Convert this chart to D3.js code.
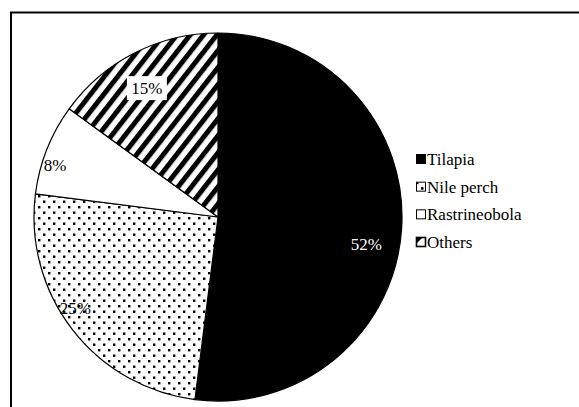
<!DOCTYPE html>
<html lang="en">
<head>
    <meta charset="UTF-8">
    <title>Catch composition</title>
    <script src="https://d3js.org/d3.v7.min.js"></script>
    <style>
        body { margin: 0; background: #fff; }
        svg { display: block; }
        text { font-family: "Liberation Serif", "DejaVu Serif", serif; }
    </style>
</head>
<body>
    <svg id="chart" width="579" height="407"></svg>

    <script>
        // data
        const species = ["Tilapia", "Nile perch", "Rastrineobola", "Others"];
        const shares = [52, 25, 8, 15];
        const labels = ["52%", "25%", "8%", "15%"];

        const width = 579, height = 407;
        const cx = 218, cy = 217, radius = 184;
        const serif = "Liberation Serif";

        const svg = d3.select("#chart");

        // fills: solid, dots, plain, stripes
        const defs = svg.append("defs");

        const dots = defs.append("pattern")
            .attr("id", "dots")
            .attr("patternUnits", "userSpaceOnUse")
            .attr("width", 10).attr("height", 11);
        dots.append("rect").attr("width", 10).attr("height", 11).attr("fill", "#fff");
        dots.append("rect").attr("x", 0).attr("y", 0).attr("width", 2.4).attr("height", 2.4).attr("fill", "#000");
        dots.append("rect").attr("x", 5).attr("y", 5.5).attr("width", 2.4).attr("height", 2.4).attr("fill", "#000");

        const stripes = defs.append("pattern")
            .attr("id", "stripes")
            .attr("patternUnits", "userSpaceOnUse")
            .attr("width", 10.5).attr("height", 10.5)
            .attr("patternTransform", "rotate(38)");
        stripes.append("rect").attr("width", 10.5).attr("height", 10.5).attr("fill", "#fff");
        stripes.append("rect").attr("width", 5).attr("height", 10.5).attr("fill", "#000");

        const fills = ["#000", "url(#dots)", "#fff", "url(#stripes)"];

        // outer frame (runs off the right/bottom edge in the original)
        svg.append("rect")
            .attr("x", 11).attr("y", 12.5)
            .attr("width", 620).attr("height", 440)
            .attr("fill", "none")
            .attr("stroke", "#000")
            .attr("stroke-width", 2);

        const pie = d3.pie().sort(null).value(d => d)(shares);
        const arc = d3.arc().innerRadius(0).outerRadius(radius);

        const g = svg.append("g").attr("transform", `translate(${cx},${cy})`);

        g.selectAll("path.slice")
            .data(pie)
            .enter().append("path")
            .attr("class", "slice")
            .attr("d", arc)
            .attr("fill", (d, i) => fills[i])
            .attr("stroke", "#000")
            .attr("stroke-width", 1.2)
            .attr("stroke-linejoin", "round");

        // label placement: fraction of radius + small angle nudge (deg)
        const labelPos = [
            { r: 0.82, da: 6.7 },
            { r: 0.92, da: 5.3 },
            { r: 0.93, da: -3.9 },
            { r: 0.80, da: -1.9 }
        ];
        const labelColors = ["#fff", "#000", "#000", "#000"];

        const lab = g.selectAll("g.label")
            .data(pie)
            .enter().append("g")
            .attr("class", "label")
            .attr("transform", (d, i) => {
                const a = (d.startAngle + d.endAngle) / 2 + labelPos[i].da * Math.PI / 180;
                const r = radius * labelPos[i].r;
                return `translate(${r * Math.sin(a)},${-r * Math.cos(a)})`;
            });

        // white box behind the 15% label
        lab.filter((d, i) => i === 3)
            .append("rect")
            .attr("x", -20).attr("y", -12)
            .attr("width", 40).attr("height", 24)
            .attr("fill", "#fff");

        lab.append("text")
            .attr("text-anchor", "middle")
            .attr("dy", "0.35em")
            .attr("font-family", serif)
            .attr("font-size", 17)
            .attr("fill", (d, i) => labelColors[i])
            .text((d, i) => labels[i]);

        // legend
        const ly = d3.scalePoint().domain(species).range([159, 242]);
        const lx = 416;

        const leg = svg.append("g").selectAll("g")
            .data(species)
            .enter().append("g")
            .attr("transform", d => `translate(${lx},${ly(d)})`);

        leg.append("rect")
            .attr("x", 0.5).attr("y", -4.5)
            .attr("width", 9).attr("height", 9)
            .attr("fill", (d, i) => i === 0 ? "#000" : "#fff")
            .attr("stroke", "#000")
            .attr("stroke-width", 1);

        // tiny pattern hints inside the legend keys
        leg.filter((d, i) => i === 1).append("rect")
            .attr("x", 5).attr("y", 0.5).attr("width", 2.5).attr("height", 2.5).attr("fill", "#000");
        leg.filter((d, i) => i === 1).append("rect")
            .attr("x", 1).attr("y", -4).attr("width", 1.5).attr("height", 1.5).attr("fill", "#000");
        leg.filter((d, i) => i === 3).append("path")
            .attr("d", "M1,-4 L6,-4 L1,1 Z")
            .attr("fill", "#000");
        leg.filter((d, i) => i === 3).append("rect")
            .attr("x", 0.5).attr("y", -4.5).attr("width", 9).attr("height", 9)
            .attr("fill", "none").attr("stroke", "#000").attr("stroke-width", 1.6);

        leg.append("text")
            .attr("x", 11)
            .attr("dy", "0.35em")
            .attr("font-family", serif)
            .attr("font-size", 17)
            .text(d => d);
    </script>
</body>
</html>
